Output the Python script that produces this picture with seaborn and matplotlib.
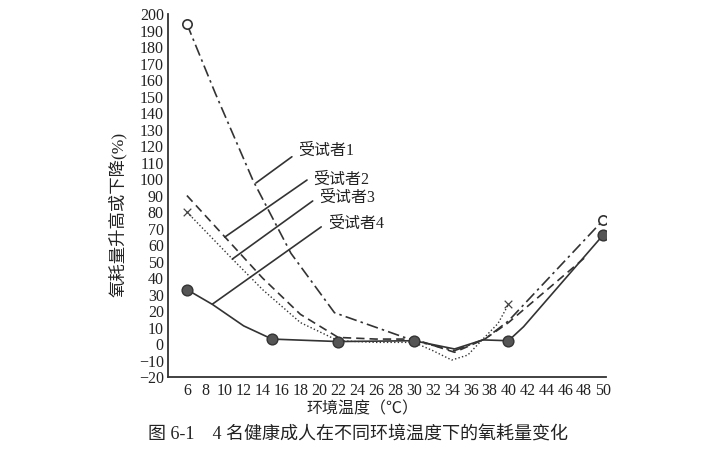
import matplotlib
matplotlib.use("Agg")
import matplotlib.pyplot as plt
import numpy as np
import pandas as pd
import seaborn as sns

sns.set_theme(style="white")
plt.rcParams['font.family'] = ['Liberation Serif', 'Noto Sans CJK SC', 'DejaVu Sans']
plt.rcParams['axes.unicode_minus'] = True

# values (temperature in C, change in %)
s1_x = [6, 9, 13, 17, 21.6, 30, 34.3, 37.5, 40, 50]
s1_y = [194, 152, 99, 55, 19, 2, -4, 3, 14, 75]
s2_x = [6, 10, 14, 18, 22, 26, 30, 34.3, 37.5, 40, 48]
s2_y = [90, 65, 40, 18, 4, 3, 3, -5, 3, 13, 52]
s3_x = [6, 10.9, 14, 18, 22, 26, 30, 32, 34, 35.7, 37.3, 38.9, 40]
s3_y = [80, 51, 33, 13, 2, 1, 1, -4, -9.7, -6.7, 3, 12.5, 24]
s4_x = [6, 8.7, 12, 15, 22, 30, 34.3, 37.3, 40, 41.6, 50]
s4_y = [33, 24, 11, 3, 1.5, 2, -3, 2.5, 2, 10.5, 66]

s4_pts_x = [6, 15, 22, 30, 40, 50]
s4_pts_y = [33, 3, 1.5, 2, 2, 66]
s3_pts_x = [6, 40]
s3_pts_y = [80, 24]
s1_pts_x = [6, 50]
s1_pts_y = [194, 75]

labels = ['受试者1', '受试者2', '受试者3', '受试者4']
# leader lines: point on curve -> label position
lead_from = [(13.3, 97.6), (10.0, 64.8), (10.8, 51.5), (8.7, 24.2)]
lead_to = [(17.1, 113.5), (18.7, 99.4), (19.3, 86.7), (20.2, 71)]
text_at = [(17.8, 117), (19.3, 99.5), (20.0, 88.5), (20.9, 73)]

xticks = list(range(6, 51, 2))
yticks = list(range(-20, 201, 10))

col = '#333333'

fig = plt.figure(figsize=(7.17, 4.59), dpi=100)
ax = fig.add_axes([0.2343, 0.1786, 0.6107, 0.7908])

def line(xs, ys, dashes, lw=1.2):
    df = pd.DataFrame({'x': xs, 'y': ys})
    sns.lineplot(data=df, x='x', y='y', ax=ax, sort=False, estimator=None,
                 color=col, lw=lw)
    ln = ax.get_lines()[-1]
    if dashes is not None:
        ln.set_dashes(dashes)

line(s1_x, s1_y, (7, 2.5, 1.5, 2.5))
line(s2_x, s2_y, (5, 3))
line(s3_x, s3_y, (1, 1.6), lw=1.0)
line(s4_x, s4_y, None)

sns.scatterplot(x=s4_pts_x, y=s4_pts_y, ax=ax, s=60, color='#555555',
                edgecolor='#333333', linewidth=1, zorder=5)
sns.scatterplot(x=s1_pts_x, y=s1_pts_y, ax=ax, s=45, facecolor='white',
                edgecolor='#333333', linewidth=1.2, zorder=5)
sns.scatterplot(x=s3_pts_x, y=s3_pts_y, ax=ax, s=30, marker='x',
                color='#444444', linewidth=0.9, zorder=5)

for (x0, y0), (x1, y1), (tx, ty), lab in zip(lead_from, lead_to, text_at, labels):
    ax.plot([x0, x1], [y0, y1], color=col, lw=1.2)
    ax.text(tx, ty, lab, fontsize=11.5, va='center', ha='left', color='#222222')

ax.set_xlim(4, 50.3)
ax.set_ylim(-20, 200)
ax.set_xticks(xticks)
ax.set_yticks(yticks)
ax.tick_params(axis='both', direction='in', length=4, width=1, colors='#333333',
               labelsize=11.5, labelcolor='#222222', pad=4)
ax.tick_params(axis='y', pad=3)
sns.despine(ax=ax)
for sp in ['left', 'bottom']:
    ax.spines[sp].set_color('#333333')
    ax.spines[sp].set_linewidth(1.3)

ax.set_xlabel('环境温度（℃）', fontsize=11.5, color='#222222')
ax.xaxis.set_label_coords(0.445, -0.068)
ax.set_ylabel('氧耗量升高或下降(%)', fontsize=12.5, color='#222222')
ax.yaxis.set_label_coords(-0.094, 0.449)

fig.text(0.499, 0.052, '图 6-1　4 名健康成人在不同环境温度下的氧耗量变化',
         ha='center', va='center', fontsize=13, color='#222222')

fig.savefig('out.png', dpi=100)
